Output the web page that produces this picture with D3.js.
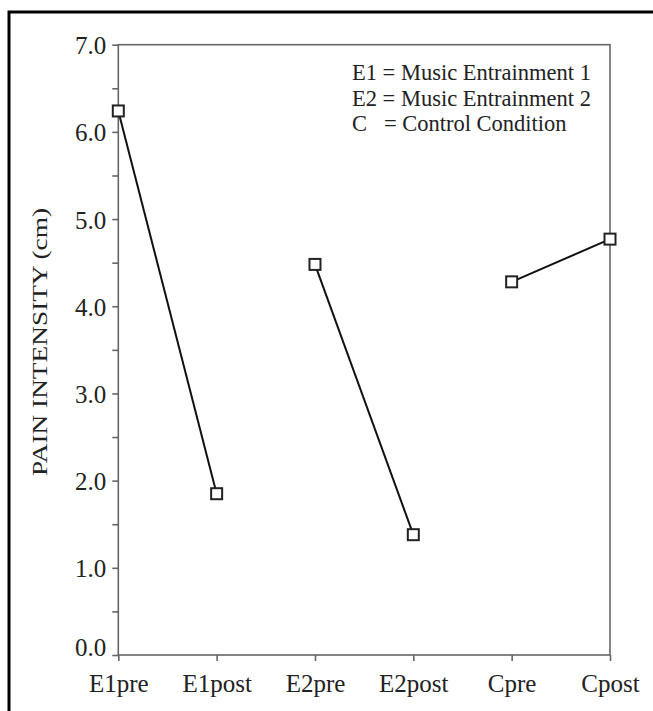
<!DOCTYPE html>
<html>
  <head>
    <style>
      body { margin: 0; background: #fff; }
      .frame path, .frame line { stroke: #666; stroke-width: 1.6px; }
    </style>
    <script src="https://cdn.jsdelivr.net/npm/d3@7"></script>
  </head>
  <body>
    <svg class="chart"></svg>

    <script>
      const categories = ['E1pre', 'E1post', 'E2pre', 'E2post', 'Cpre', 'Cpost'];
      const values = [6.24, 1.85, 4.48, 1.38, 4.28, 4.77];
      const pairs = [['E1pre', 'E1post'], ['E2pre', 'E2post'], ['Cpre', 'Cpost']];
      const yTicks = [0, 1, 2, 3, 4, 5, 6, 7];
      const yMinorTicks = [0.5, 1.5, 2.5, 3.5, 4.5, 5.5, 6.5];
      const legendLines = ['E1 = Music Entrainment 1', 'E2 = Music Entrainment 2', 'C\u00a0\u00a0 = Control Condition'];

      const serif = '"Liberation Serif", "DejaVu Serif", serif';
      const width = 653;
      const height = 711;
      const margin = { top: 44.7, right: 43, bottom: 56, left: 118.3 };
      const w = width - margin.left - margin.right;
      const h = height - margin.top - margin.bottom;

      const root = d3.select('svg')
        .attr('width', width)
        .attr('height', height);

      // outer border, running off the right and bottom edges
      root.append('rect')
        .attr('x', 9).attr('y', 12)
        .attr('width', 700).attr('height', 760)
        .attr('fill', 'none')
        .attr('stroke', '#000')
        .attr('stroke-width', 3);

      const svg = root.append('g')
        .attr('transform', `translate(${margin.left},${margin.top})`);

      const x = d3.scalePoint().domain(categories).range([0, w]);
      const y = d3.scaleLinear().domain([0, 7]).range([h, 0]);

      // plot box
      svg.append('rect')
        .attr('width', w).attr('height', h)
        .attr('fill', 'none')
        .attr('stroke', '#666')
        .attr('stroke-width', 1.6);

      const xAxis = svg.append('g')
        .attr('class', 'frame')
        .attr('transform', `translate(0,${h})`)
        .call(d3.axisBottom(x).tickSize(6).tickPadding(13));
      xAxis.select('.domain').remove();
      xAxis.selectAll('text')
        .attr('font-family', serif).attr('font-size', 25).attr('fill', '#222');

      const yAxis = svg.append('g')
        .attr('class', 'frame')
        .call(d3.axisLeft(y).tickValues(yTicks).tickSize(6).tickPadding(6).tickFormat(d3.format('.1f')));
      yAxis.select('.domain').remove();
      yAxis.selectAll('text')
        .attr('font-family', serif).attr('font-size', 25).attr('fill', '#222')
        .attr('dy', d => d === 0 ? '0.0em' : '0.36em');

      const yMinor = svg.append('g')
        .attr('class', 'frame')
        .call(d3.axisLeft(y).tickValues(yMinorTicks).tickSize(6).tickFormat(''));
      yMinor.select('.domain').remove();

      // y axis title
      root.append('text')
        .attr('transform', 'translate(47,342) rotate(-90)')
        .attr('text-anchor', 'middle')
        .attr('font-family', serif)
        .attr('font-size', 21)
        .attr('fill', '#222')
        .attr('textLength', 268)
        .attr('lengthAdjust', 'spacingAndGlyphs')
        .text('PAIN INTENSITY (cm)');

      const valueOf = c => values[categories.indexOf(c)];

      const line = d3.line()
        .x(d => x(d))
        .y(d => y(valueOf(d)));

      svg.selectAll('path.seg')
        .data(pairs)
        .join('path')
        .attr('class', 'seg')
        .attr('d', line)
        .attr('fill', 'none')
        .attr('stroke', '#111')
        .attr('stroke-width', 2);

      const s = 11;
      svg.selectAll('rect.pt')
        .data(categories)
        .join('rect')
        .attr('class', 'pt')
        .attr('x', d => x(d) - s / 2)
        .attr('y', d => y(valueOf(d)) - s / 2)
        .attr('width', s).attr('height', s)
        .attr('fill', '#fff')
        .attr('stroke', '#222')
        .attr('stroke-width', 2);

      // legend
      root.append('g')
        .selectAll('text')
        .data(legendLines)
        .join('text')
        .attr('x', 352)
        .attr('y', (d, i) => 80 + i * 25.5)
        .attr('font-family', serif)
        .attr('font-size', 22.5)
        .attr('fill', '#222')
        .text(d => d);
    </script>
  </body>
</html>
